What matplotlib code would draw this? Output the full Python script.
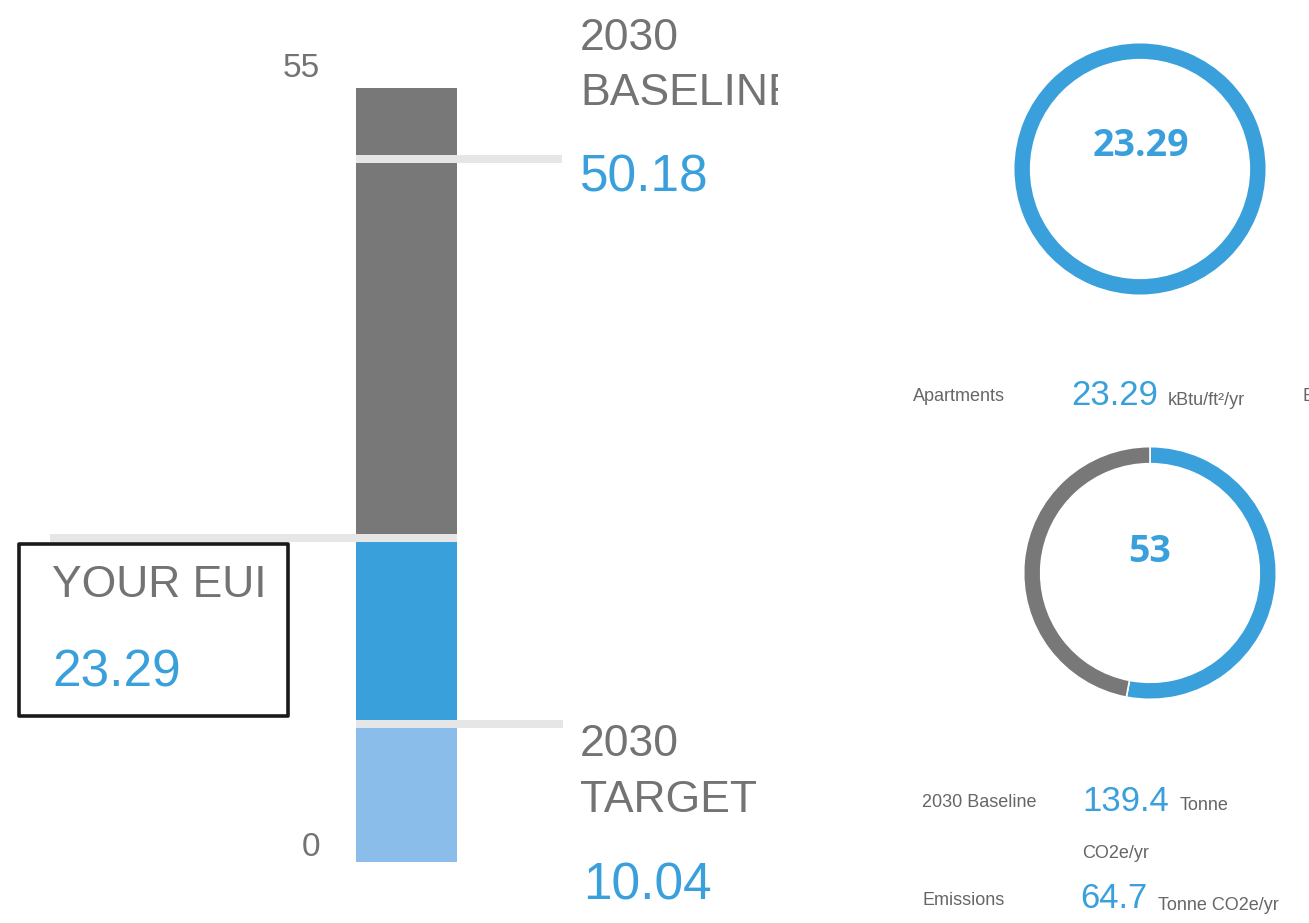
import matplotlib
matplotlib.use("Agg")
import matplotlib.pyplot as plt
from matplotlib.patches import Rectangle

# values
axis_max = 55
baseline_eui = 50.18
your_eui = 23.29
target_eui = 10.04
segment_bottoms = [0, target_eui, your_eui]
segment_tops = [target_eui, your_eui, axis_max]
segment_colors = ["#8bbdea", "#3aa0dc", "#787878"]

eui_ring = [100]
emission_share = [53, 47]           # reduction shown, remainder
building_type = "Apartments"
baseline_emissions = 139.4
emissions = 64.7

BLUE = "#3aa0dc"
GRAY_TXT = "#737373"
LINE = "#e6e6e6"
FONT = "Liberation Sans"

W, H = 1309, 923
fig = plt.figure(figsize=(W / 100, H / 100), dpi=100)
fig.patch.set_facecolor("white")

# ---- left panel: stacked EUI bar, y axis in EUI units ----
px_per_unit = 14.07
y0_px = 862
ax = fig.add_axes([0, 0, 778 / W, 1])
ax.set_xlim(0, 778)
ax.set_ylim((y0_px - H) / px_per_unit, y0_px / px_per_unit)
ax.axis("off")

heights = [t - b for t, b in zip(segment_tops, segment_bottoms)]
ax.bar([406.5] * 3, heights, bottom=segment_bottoms, width=101,
       color=segment_colors, zorder=2)

off = 3.5 / px_per_unit
lw_line = 8 * 0.72
ax.plot([356, 562], [baseline_eui - off] * 2, color=LINE, lw=lw_line, solid_capstyle="butt", zorder=3)
ax.plot([50, 457], [your_eui - off] * 2, color=LINE, lw=lw_line, solid_capstyle="butt", zorder=3)
ax.plot([356, 563], [target_eui - off] * 2, color=LINE, lw=lw_line, solid_capstyle="butt", zorder=3)

ax.text(320, axis_max + 0.8, f"{axis_max}", ha="right", va="baseline",
        fontsize=24, color=GRAY_TXT, family=FONT)
ax.text(320, 0 + 0.43, "0", ha="right", va="baseline",
        fontsize=24, color=GRAY_TXT, family=FONT)

lab = dict(ha="left", va="baseline", fontsize=32, color=GRAY_TXT, family=FONT, clip_on=True)
num = dict(ha="left", va="baseline", fontsize=37, color=BLUE, family=FONT, clip_on=True)
ax.text(580, baseline_eui + 7.53, "2030", **lab)
ax.text(580, baseline_eui + 3.62, "BASELINE", **lab)
ax.text(580, baseline_eui - 2.56, f"{baseline_eui:.2f}", **num)

ax.text(52, your_eui - 4.46, "YOUR EUI", **lab)
ax.text(52, your_eui - 10.85, f"{your_eui:.2f}", **num)

ax.text(580, target_eui - 2.51, "2030", **lab)
ax.text(580, target_eui - 6.49, "TARGET", **lab)
ax.text(583, target_eui - 12.74, f"{target_eui:.2f}", **num)

ax.add_patch(Rectangle((19, (y0_px - 716) / px_per_unit), 269, 172 / px_per_unit,
                       fill=False, edgecolor="#1a1a1a", lw=2.6, joinstyle="round", zorder=4))

# ---- right panel: donuts ----
def donut(cx, cy, r, values, colors):
    a = fig.add_axes([(cx - r) / W, (H - cy - r) / H, 2 * r / W, 2 * r / H])
    a.pie(values, colors=colors, startangle=90, counterclock=False,
          wedgeprops=dict(width=0.135, edgecolor="white", linewidth=1.2))
    a.set_xlim(-1.005, 1.005)
    a.set_ylim(-1.005, 1.005)
    a.set_aspect("equal")
    a.axis("off")
    return a

donut(1140, 169, 127, eui_ring, [BLUE])
donut(1150, 573, 127, emission_share, [BLUE, "#787878"])

# overlay axes in pixel units for the right-hand texts
t = fig.add_axes([0, 0, 1, 1])
t.set_xlim(0, W)
t.set_ylim(H, 0)
t.axis("off")
t.patch.set_alpha(0)

t.text(1141, 146, f"{your_eui:.2f}", ha="center", va="center", fontsize=27,
       fontweight="bold", color=BLUE, family="Open Sans")
t.text(1150, 552, f"{emission_share[0]}", ha="center", va="center", fontsize=27,
       fontweight="bold", color=BLUE, family="Open Sans")

small = dict(va="baseline", fontsize=13, color="#666666", family=FONT)
mid = dict(va="baseline", fontsize=25, color=BLUE, family=FONT)
t.text(913, 401, building_type, **small)
t.text(1071, 405, f"{your_eui:.2f}", **mid)
t.text(1168, 405, "kBtu/ft²/yr", **small)
t.text(1302, 401, "EUI", **small)

t.text(922, 807, "2030 Baseline", **small)
t.text(1082, 811, f"{baseline_emissions}", **mid)
t.text(1180, 810, "Tonne", **small)
t.text(1082, 858, "CO2e/yr", **small)
t.text(922, 905, "Emissions", **small)
t.text(1080, 908, f"{emissions}", **mid)
t.text(1158, 910, "Tonne CO2e/yr", **small)

fig.savefig("out.png", dpi=100, facecolor="white")
